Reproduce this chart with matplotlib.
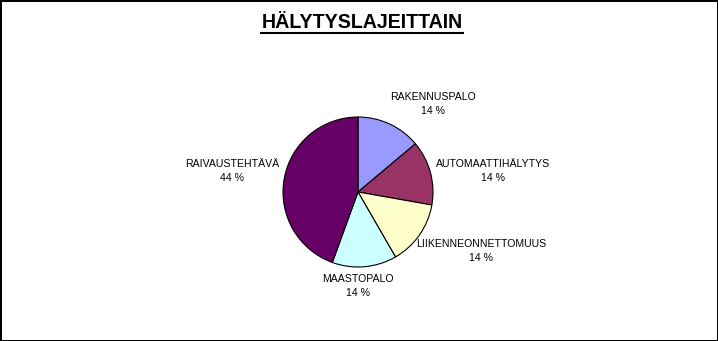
import matplotlib.pyplot as plt
from matplotlib.lines import Line2D

plt.rcParams['font.family'] = ['Liberation Sans', 'DejaVu Sans']

# data
categories = ['RAKENNUSPALO', 'AUTOMAATTIHÄLYTYS', 'LIIKENNEONNETTOMUUS',
              'MAASTOPALO', 'RAIVAUSTEHTÄVÄ']
counts = [5, 5, 5, 5, 16]
colors = ['#9999FF', '#993366', '#FFFFCC', '#CCFFFF', '#660066']

# label block centres, in pie-radius units (layout only)
label_pos = [(1.0, 1.17), (1.8, 0.28), (1.64, -0.79), (0.0, -1.25), (-1.68, 0.28)]

W, H, dpi = 718, 341, 100
fig = plt.figure(figsize=(W / dpi, H / dpi), dpi=dpi,
                 facecolor='white', edgecolor='black', linewidth=2)

# axes spanning the whole figure, 1 data unit = pie radius (75 px)
cx, cy, r = 358, 192, 75
ax = fig.add_axes([0, 0, 1, 1])
ax.axis('off')

ax.pie(counts, colors=colors, startangle=90, counterclock=False, radius=1,
       wedgeprops=dict(edgecolor='black', linewidth=0.8))
ax.set_xlim(-cx / r, (W - cx) / r)
ax.set_ylim((cy - H) / r, cy / r)

total = sum(counts)
for name, c, (x, y) in zip(categories, counts, label_pos):
    pct = round(100 * c / total)
    ax.text(x, y, f'{name}\n{pct} %', ha='center', va='center',
            fontsize=7.6, linespacing=1.55)

# title with underline
t = fig.text(362 / W, 1 - 28 / H, 'HÄLYTYSLAJEITTAIN', ha='center',
             va='baseline', fontsize=14.1, fontweight='bold')
fig.canvas.draw()
bb = t.get_window_extent(fig.canvas.get_renderer())
uy = 1 - 33 / H
fig.add_artist(Line2D([bb.x0 / W, bb.x1 / W], [uy, uy], color='black',
                      linewidth=1.5, transform=fig.transFigure))

fig.savefig('out.png', dpi=dpi, edgecolor='black')
